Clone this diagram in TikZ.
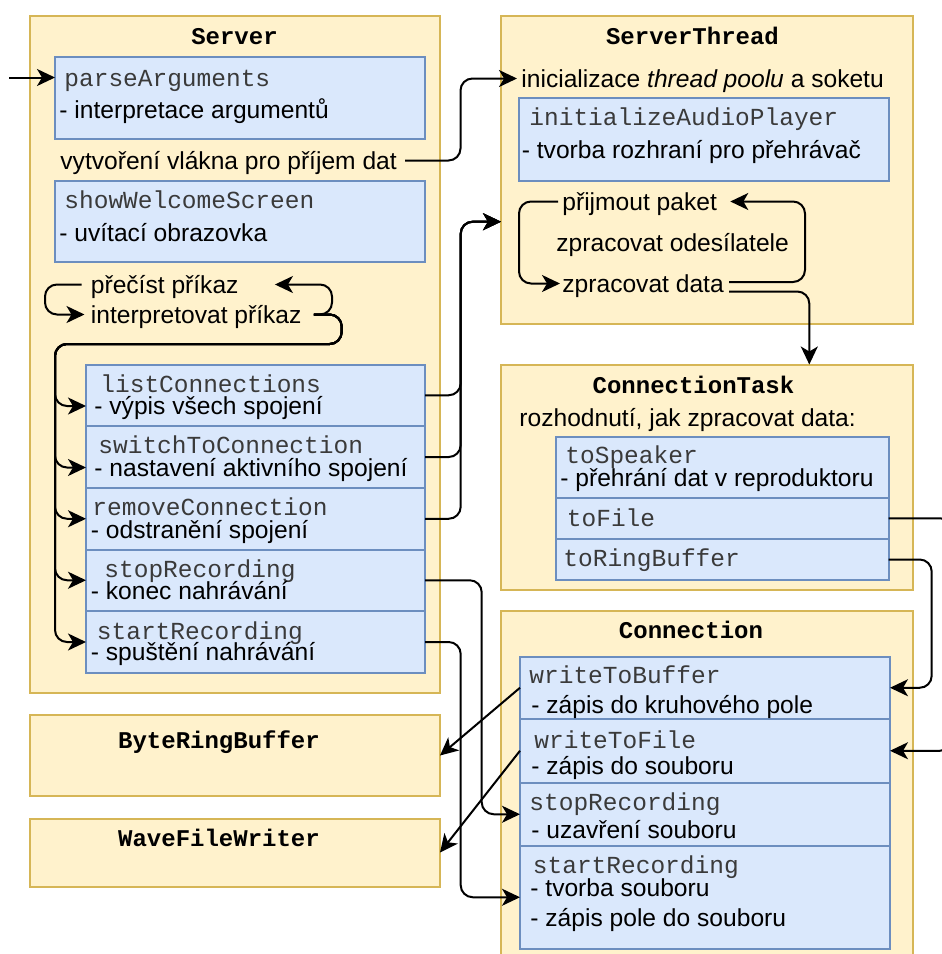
\documentclass[tikz,border=0pt]{standalone}
\usepackage{fontspec}
\setmainfont{Liberation Sans}
\newfontfamily\codefont{Liberation Mono}
\usetikzlibrary{arrows.meta,fit}
\definecolor{classfill}{HTML}{FFF2CC}
\definecolor{classline}{HTML}{D6B656}
\definecolor{methfill}{HTML}{DAE8FC}
\definecolor{methline}{HTML}{6C8EBF}
\definecolor{codeink}{HTML}{3A3A3A}
\begin{document}
\begin{tikzpicture}[x=0.5pt, y=-0.5pt,
  every node/.style={font=\fontsize{12.3}{14.8}\selectfont},
  classbox/.style={draw=classline, fill=classfill, line width=1pt, inner sep=0pt, outer sep=0pt},
  methbox/.style={draw=methline, fill=methfill, line width=1pt, inner sep=0pt, outer sep=0pt},
  title/.style={anchor=center, inner sep=0pt, text height=6.85pt, text depth=0pt,
    font=\fontsize{12}{14.4}\codefont\bfseries},
  txt/.style={anchor=west, inner sep=0pt, text height=8.8pt, text depth=0pt},
  code/.style={anchor=west, inner sep=0pt, text height=7pt, text depth=0pt, text=codeink,
    font=\fontsize{12.25}{14.7}\codefont},
  link/.style={line width=1pt, rounded corners=6pt},
  flow/.style={link, -{Stealth[length=9pt,width=8.5pt,inset=2.5pt]}}]

\useasboundingbox (0,0) rectangle (942,954);
\clip (0,0) rectangle (942,954);

% ---- classes ----
\node[classbox, fit={(29.5,15.5) (440,692.5)}] (server) {};
\node[classbox, fit={(501,15.5) (912.5,323.5)}] (thread) {};
\node[classbox, fit={(501,364.5) (912.5,590)}] (task) {};
\node[classbox, fit={(501,611) (912.5,975)}] (conn) {};
\node[classbox, fit={(29.5,715) (440,796)}] (brb) {};
\node[classbox, fit={(29.5,818.5) (440,886.5)}] (wfw) {};

% ---- methods ----
\node[methbox, fit={(55,57) (425,139)}] (parse) {};
\node[methbox, fit={(55,180.5) (425,262)}] (welcome) {};
\node[methbox, fit={(86,364.5) (425,426)}] (list) {};
\node[methbox, fit={(86,426) (425,488)}] (switch) {};
\node[methbox, fit={(86,488) (425,549.5)}] (remove) {};
\node[methbox, fit={(86,549.5) (425,611)}] (stopS) {};
\node[methbox, fit={(86,611) (425,673)}] (startS) {};
\node[methbox, fit={(518.5,98) (888.5,180.5)}] (init) {};
\node[methbox, fit={(556,436.5) (888.5,497.5)}] (speaker) {};
\node[methbox, fit={(556,497.5) (888.5,539)}] (tofile) {};
\node[methbox, fit={(556,539) (888.5,580)}] (toring) {};
\node[methbox, fit={(520,656.5) (890,719)}] (wbuf) {};
\node[methbox, fit={(520,719) (890,782.5)}] (wfile) {};
\node[methbox, fit={(520,782.5) (890,846)}] (stopC) {};
\node[methbox, fit={(520,846) (890,948.5)}] (startC) {};

% ---- titles ----
\node[title] (hServer) at (234.5,37.5) {Server};
\node[title] (hThread) at (692.5,37.5) {ServerThread};
\node[title] (hTask) at (693.5,386.5) {ConnectionTask};
\node[title] (hConn) at (691,632) {Connection};
\node[title] (hBrb) at (219,741.5) {ByteRingBuffer};
\node[title] (hWfw) at (219,840) {WaveFileWriter};

% ---- Server ----
\node[code] (tParse) at (64,79) {parseArguments};
\node[txt] (tParseD) at (59,109.5) {- interpretace argumentů};
\node[txt] (tVytv) at (60,160.5) {vytvoření vlákna pro příjem dat};
\node[code] (tWelc) at (64,201) {showWelcomeScreen};
\node[txt] (tWelcD) at (59,232.5) {- uvítací obrazovka};
\node[txt] (tRead) at (90.5,284.5) {přečíst příkaz};
\node[txt] (tInterp) at (90.5,314.5) {interpretovat příkaz};
\node[code] (tList) at (100,385.5) {listConnections};
\node[txt] (tListD) at (94,406) {- výpis všech spojení};
\node[code] (tSwitch) at (98,446.5) {switchToConnection};
\node[txt] (tSwitchD) at (94,467.5) {- nastavení aktivního spojení};
\node[code] (tRemove) at (92,508.5) {removeConnection};
\node[txt] (tRemoveD) at (90.5,529.5) {- odstranění spojení};
\node[code] (tStopS) at (104,570) {stopRecording};
\node[txt] (tStopSD) at (90.5,591) {- konec nahrávání};
\node[code] (tStartS) at (96.5,632) {startRecording};
\node[txt] (tStartSD) at (90.5,652) {- spuštění nahrávání};

% ---- ServerThread ----
\node[txt] (tInit) at (521,78.5) {inicializace \textit{thread poolu} a soketu};
\node[code] (tAudio) at (529,118.5) {initializeAudioPlayer};
\node[txt] (tAudioD) at (521.5,150) {- tvorba rozhraní pro přehrávač};
\node[txt] (tRecv) at (562,201.5) {přijmout paket};
\node[txt] (tSender) at (556,242.5) {zpracovat odesílatele};
\node[txt] (tData) at (562,283.5) {zpracovat data};

% ---- ConnectionTask ----
\node[txt] (tDecide) at (519,417.5) {rozhodnutí, jak zpracovat data:};
\node[code] (tSpk) at (565,456.5) {toSpeaker};
\node[txt] (tSpkD) at (560,477.5) {- přehrání dat v reproduktoru};
\node[code] (tFile) at (566.5,519.5) {toFile};
\node[code] (tRing) at (563,559.5) {toRingBuffer};

% ---- Connection ----
\node[code] (tWbuf) at (529,676.5) {writeToBuffer};
\node[txt] (tWbufD) at (531,704.5) {- zápis do kruhového pole};
\node[code] (tWfile) at (534,741) {writeToFile};
\node[txt] (tWfileD) at (531,765.5) {- zápis do souboru};
\node[code] (tStopC) at (529,803.5) {stopRecording};
\node[txt] (tStopCD) at (531,829.5) {- uzavření souboru};
\node[code] (tStartC) at (532.5,866) {startRecording};
\node[txt] (tStartCA) at (530,887.5) {- tvorba souboru};
\node[txt] (tStartCB) at (530,917.5) {- zápis pole do souboru};

% ---- routing points ----
\coordinate (entry) at (9,77.5);
\coordinate (bendVytv) at (460.5,0);
\coordinate (bendRead) at (45,0);
\coordinate (bendLoop) at (332,0);
\coordinate (bendDisp) at (341.7,344);
\coordinate (bus) at (55,344);
\coordinate (bendThr) at (460.7,0);
\coordinate (thrIn) at (thread.west |- 0,221.7);
\coordinate (bendRecv) at (519,0);
\coordinate (bendData) at (805,0);
\coordinate (bendTask) at (809.3,0);
\coordinate (bendFile) at (952,0);
\coordinate (bendRing) at (931.7,0);
\coordinate (bendStop) at (481.7,0);
\coordinate (bendStart) at (460.7,0);
\coordinate (inList) at (list.west |- tListD.west);
\coordinate (inSwitch) at (switch.west |- tSwitchD.west);

% ---- connectors ----
\draw[flow] (entry) -- (entry -| parse.west);

\coordinate (vytvOut) at ([xshift=4pt]tVytv.east);
\draw[flow] (vytvOut) -- (vytvOut -| bendVytv) -- (bendVytv |- tInit.west) -- ([xshift=-2pt]tInit.west);

\coordinate (readOut) at ([xshift=-4.5pt]tRead.west);
\draw[flow] (readOut) -- (readOut -| bendRead) -- (bendRead |- tInterp.west) -- ([xshift=-3pt]tInterp.west);
\coordinate (interpOut) at ([xshift=6pt]tInterp.east);
\draw[flow] (interpOut) -- (interpOut -| bendLoop) -- (bendLoop |- tRead.east) -- ([xshift=18pt]tRead.east);

\foreach \tgt in {inList, inSwitch, remove.west, stopS.west, startS.west}
  \draw[flow] (interpOut) -- (interpOut -| bendDisp) -- (bendDisp) -- (bus) -- (bus |- \tgt) -- (\tgt);

\foreach \src in {list, switch, remove}
  \draw[flow] (\src.east) -- (\src.east -| bendThr) -- (bendThr |- thrIn) -- (thrIn);

\coordinate (recvOut) at ([xshift=-2pt]tRecv.west);
\draw[flow] (recvOut) -- (recvOut -| bendRecv) -- (bendRecv |- tData.west) -- ([xshift=-1pt]tData.west);
\coordinate (dataOut) at ([shift={(2.5pt,0.75pt)}]tData.east);
\draw[flow] (dataOut) -- (dataOut -| bendData) -- (bendData |- tRecv.east) -- ([xshift=6.5pt]tRecv.east);
\coordinate (dataDown) at ([shift={(2.5pt,-4pt)}]tData.east);
\draw[flow] (dataDown) -- (dataDown -| bendTask) -- (bendTask |- task.north);

\draw[flow] (tofile.east) -- (tofile.east -| bendFile) -- (bendFile |- wfile.east) -- (wfile.east);
\draw[flow] (toring.east) -- (toring.east -| bendRing) -- (bendRing |- wbuf.east) -- (wbuf.east);

\draw[flow] (wbuf.west) -- (brb.east);
\draw[flow] (wfile.west) -- (wfw.east);

\draw[flow] (stopS.east) -- (stopS.east -| bendStop) -- (bendStop |- stopC.west) -- (stopC.west);
\draw[flow] (startS.east) -- (startS.east -| bendStart) -- (bendStart |- startC.west) -- (startC.west);
\end{tikzpicture}
\end{document}
